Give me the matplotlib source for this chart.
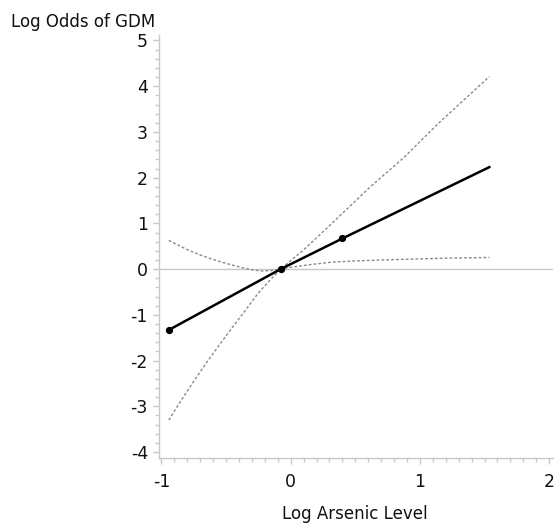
import numpy as np
import matplotlib
matplotlib.use("Agg")
import matplotlib.pyplot as plt
from matplotlib.ticker import MultipleLocator

plt.rcParams['axes.unicode_minus'] = False

# Schaetzwerte
est_x = [-0.943, -0.078, 0.40, 1.537]
est_y = [-1.33, 0.0, 0.67, 2.23]

# Konfidenzband, steiler Ast
ci_a_x = [-0.943, -0.85, -0.75, -0.65, -0.55, -0.45, -0.35, -0.25, -0.16, -0.078,
          0.10, 0.30, 0.62, 0.88, 1.14, 1.537]
ci_a_y = [-3.30, -2.88, -2.45, -2.04, -1.65, -1.27, -0.90, -0.52, -0.24, 0.0,
          0.42, 0.95, 1.81, 2.45, 3.18, 4.21]

# Konfidenzband, flacher Ast
ci_b_x = [-0.943, -0.86, -0.788, -0.70, -0.62, -0.53, -0.44, -0.375, -0.29, -0.22, -0.15, -0.078,
          0.0, 0.155, 0.31, 0.50, 0.70, 0.95, 1.20, 1.537]
ci_b_y = [0.63, 0.51, 0.41, 0.31, 0.23, 0.15, 0.08, 0.03, -0.02, -0.04, -0.03, 0.0,
          0.04, 0.10, 0.15, 0.18, 0.20, 0.22, 0.24, 0.255]

x_ticks = [-1, 0, 1, 2]
y_ticks = [-4, -3, -2, -1, 0, 1, 2, 3, 4, 5]

fig = plt.figure(figsize=(5.54, 5.23), dpi=100)
ax = fig.add_axes([159 / 554, 65 / 523, 394 / 554, 423 / 523])

ax.set_xlim(-1.019, 2.03)
ax.set_ylim(-4.13, 5.12)

grid_col = '#c8c8c8'
ax.axhline(0, color=grid_col, lw=1, zorder=1)

ax.plot(ci_a_x, ci_a_y, color='#8a8a8a', lw=1, linestyle=(0, (2, 1.5)), zorder=2)
ax.plot(ci_b_x, ci_b_y, color='#8a8a8a', lw=1, linestyle=(0, (2, 1.5)), zorder=2)
ax.plot(est_x, est_y, color='black', lw=1.8, zorder=3)
ax.scatter(est_x[:3], est_y[:3], color='black', s=18, zorder=4)

# Achsen
for side in ['top', 'right']:
    ax.spines[side].set_visible(False)
for side in ['left', 'bottom']:
    ax.spines[side].set_color(grid_col)
    ax.spines[side].set_linewidth(1)

ax.set_xticks(x_ticks)
ax.set_yticks(y_ticks)
ax.xaxis.set_minor_locator(MultipleLocator(0.1))
ax.yaxis.set_minor_locator(MultipleLocator(0.2))
ax.tick_params(which='major', length=4, width=1, color=grid_col, labelsize=12.5, labelcolor='#111111')
ax.tick_params(which='minor', length=3, width=1, color=grid_col)
ax.tick_params(axis='x', which='major', pad=7)
ax.tick_params(axis='y', which='major', pad=4)

fig.text(11 / 554, 1 - 27 / 523, 'Log Odds of GDM', fontsize=12, va='baseline', ha='left', color='#111111')
fig.text(355 / 554, 1 - 519 / 523, 'Log Arsenic Level', fontsize=12, va='baseline', ha='center', color='#111111')

fig.savefig('out.png', dpi=100)
